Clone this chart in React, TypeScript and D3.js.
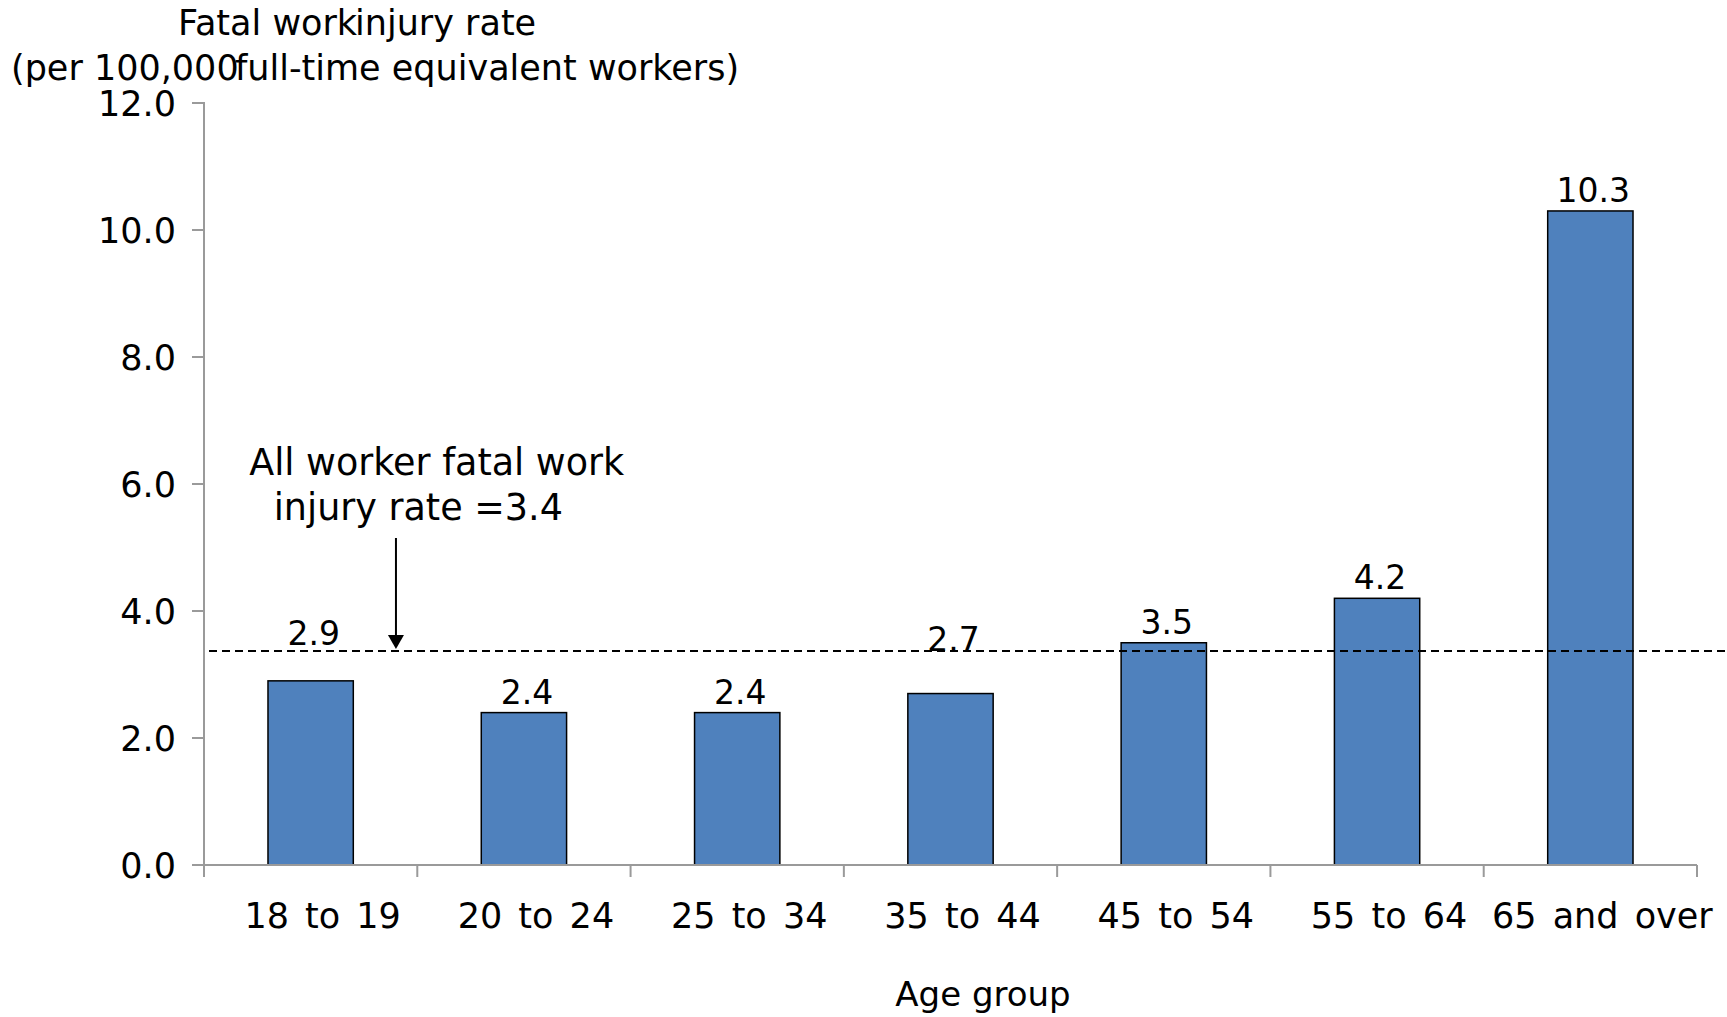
import React from 'react';
import * as d3 from 'd3';

// ---- data ----
const categories = ['18 to 19', '20 to 24', '25 to 34', '35 to 44', '45 to 54', '55 to 64', '65 and over'];
const rates = [2.9, 2.4, 2.4, 2.7, 3.5, 4.2, 10.3];
const yTicks = [0, 2, 4, 6, 8, 10, 12];
const allWorkerRate = 3.37; // reference line as drawn (labelled 3.4)
const annotationLines = ['All worker fatal work', 'injury rate =3.4'];
const titleLine1 = ['Fatal work', 'injury rate'];
const titleLine2 = ['(per 100,000', 'full-time equivalent workers)'];
const xTitle = 'Age group';
const raisedLabels = ['18 to 19', '35 to 44'];

const W = 1727;
const H = 1017;
const FONT = '"DejaVu Sans", Verdana, sans-serif';

export default function App() {
  const x = d3.scaleBand<string>().domain(categories).range([204, 1697]).paddingInner(0.6).paddingOuter(0.3);
  const y = d3.scaleLinear().domain([0, 12]).range([865, 103]);
  const step = x.step();
  const x0 = x.range()[0];
  const x1 = x.range()[1];
  const fmt = d3.format('.1f');
  const refY = y(allWorkerRate);
  const axisColor = '#9a9a9a';
  const arrowX = x0 + step * 0.9;

  return (
    <svg width={W} height={H} style={{ position: 'absolute', left: 0, top: 0, background: '#fff' }} fontFamily={FONT}>
      <rect x={0} y={0} width={W} height={H} fill="#fff" />
      {/* title */}
      <g fontSize={35} fill="#000">
        <text x={178} y={35}>{titleLine1[0]}</text>
        <text x={355} y={35}>{titleLine1[1]}</text>
        <text x={11} y={80}>{titleLine2[0]}</text>
        <text x={235} y={80}>{titleLine2[1]}</text>
      </g>

      {/* bars */}
      {categories.map((c, i) => (
        <rect
          key={c}
          x={x(c)}
          y={y(rates[i])}
          width={x.bandwidth()}
          height={y(0) - y(rates[i])}
          fill="#4F81BD"
          stroke="#000"
          strokeWidth={1.5}
        />
      ))}

      {/* y axis */}
      <line x1={x0} x2={x0} y1={y(12) - 1} y2={y(0) + 12} stroke={axisColor} strokeWidth={2} />
      {yTicks.map((t) => (
        <g key={t}>
          <line x1={x0 - 12} x2={x0} y1={y(t)} y2={y(t)} stroke={axisColor} strokeWidth={2} />
          <text x={176} y={y(t)} dy="0.36em" textAnchor="end" fontSize={35} fill="#000">
            {fmt(t)}
          </text>
        </g>
      ))}

      {/* x axis */}
      <line x1={x0} x2={x1} y1={y(0)} y2={y(0)} stroke={axisColor} strokeWidth={2} />
      {d3.range(categories.length + 1).map((i) => (
        <line key={i} x1={x0 + i * step} x2={x0 + i * step} y1={y(0)} y2={y(0) + 12} stroke={axisColor} strokeWidth={2} />
      ))}
      {categories.map((c) => (
        <text
          key={c}
          x={(x(c) as number) + x.bandwidth() / 2 + 12}
          y={928}
          textAnchor="middle"
          fontSize={35}
          wordSpacing={5}
          fill="#000"
        >
          {c}
        </text>
      ))}
      <text x={983} y={1006} textAnchor="middle" fontSize={34} fill="#000">
        {xTitle}
      </text>

      {/* reference line */}
      <line x1={209} x2={W} y1={refY} y2={refY} stroke="#000" strokeWidth={2} strokeDasharray="8 5" />

      {/* bar labels */}
      {categories.map((c, i) => {
        const raised = raisedLabels.includes(c);
        const ly = raised ? (i === 0 ? refY - 6 : refY) : y(rates[i]) - 9;
        return (
          <text key={c} x={(x(c) as number) + x.bandwidth() / 2 + 3} y={ly} textAnchor="middle" fontSize={33} fill="#000">
            {fmt(rates[i])}
          </text>
        );
      })}

      {/* annotation */}
      <g fill="#000" fontSize={36.5}>
        <text x={436.7} y={475} textAnchor="middle">
          {annotationLines[0]}
        </text>
        <text x={418.3} y={520} textAnchor="middle">
          {annotationLines[1]}
        </text>
      </g>
      <line x1={arrowX} x2={arrowX} y1={538} y2={refY - 14} stroke="#000" strokeWidth={2} />
      <polygon
        points={`${arrowX - 8},${refY - 16} ${arrowX + 8},${refY - 16} ${arrowX},${refY - 2}`}
        fill="#000"
      />
    </svg>
  );
}
